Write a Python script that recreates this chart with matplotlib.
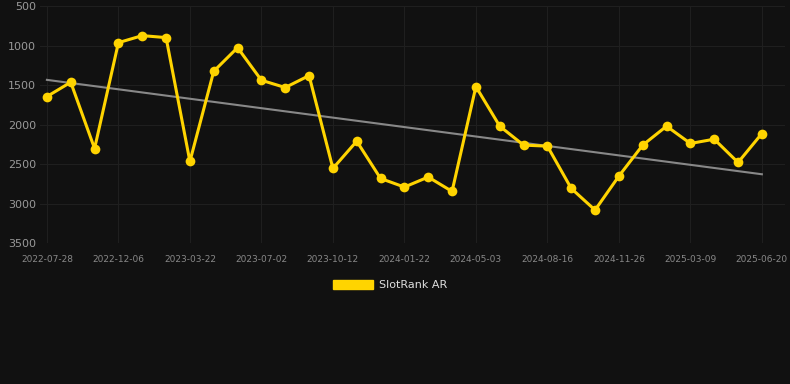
import numpy as np
import matplotlib.pyplot as plt
from matplotlib.patches import Patch

# rank values (lower is better, axis inverted)
ranks = [1646, 1465, 2304, 964, 875, 900, 2468, 1326, 1027, 1440,
         1532, 1381, 2556, 2211, 2683, 2792, 2665, 2847, 1520, 2021,
         2261, 2274, 2809, 3083, 2653, 2261, 2021, 2240, 2186, 2481, 2114]
tick_labels = ['2022-07-28', '2022-12-06', '2023-03-22', '2023-07-02',
               '2023-10-12', '2024-01-22', '2024-05-03', '2024-08-16',
               '2024-11-26', '2025-03-09', '2025-06-20']
tick_pos = list(range(0, 31, 3))
y_ticks = [500, 1000, 1500, 2000, 2500, 3000, 3500]

bg = '#111111'
gold = '#FFD400'

fig = plt.figure(figsize=(7.9, 3.84), dpi=100, facecolor=bg)
ax = fig.add_axes([40/790, 141/384, 745/790, 237/384], facecolor=bg)

x = np.arange(len(ranks))
k, b = np.polyfit(x, ranks, 1)
ax.plot(x, k*x + b, color='#888888', lw=1.5, zorder=2)
ax.plot(x, ranks, color=gold, lw=2.2, marker='o', ms=7, mew=0, zorder=3)

ax.set_ylim(3500, 500)
ax.set_yticks(y_ticks)
ax.set_xlim(-0.29, 30.97)
ax.set_xticks(tick_pos)
ax.set_xticklabels(tick_labels)
ax.grid(True, color='#1f1f1f', lw=0.8)
ax.set_axisbelow(True)
for s in ax.spines.values():
    s.set_visible(False)
ax.tick_params(axis='y', length=0, pad=3, labelsize=8, labelcolor='#999999')
ax.tick_params(axis='x', length=0, pad=9, labelsize=6.5, labelcolor='#888888')

fig.legend(handles=[Patch(color=gold, label='SlotRank AR')],
           loc='center', bbox_to_anchor=(0.494, 0.258), frameon=False,
           handlelength=3.6, handleheight=1.0, handletextpad=0.5,
           prop={'size': 8}, labelcolor='#dddddd')

fig.savefig('out.png', facecolor=bg)
